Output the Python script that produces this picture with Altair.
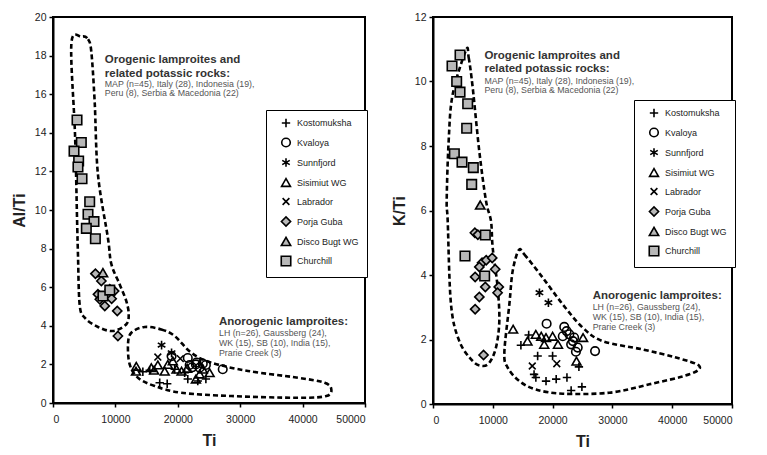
import altair as alt
import pandas as pd

SERIES = ["Kostomuksha", "Kvaloya", "Sunnfjord", "Sisimiut WG", "Labrador",
          "Porja Guba", "Disco Bugt WG", "Churchill"]
SHAPES = ["M-1,0L1,0M0,-1L0,1", "circle",
          "M0,-1L0,1M-0.87,-0.5L0.87,0.5M-0.87,0.5L0.87,-0.5",
          "triangle-up", "M-0.75,-0.75L0.75,0.75M-0.75,0.75L0.75,-0.75",
          "diamond", "triangle-up", "square"]
FILLS = ["transparent"] * 5 + ["#b8b8b8"] * 3
SIZES = [70, 90, 110, 130, 70, 170, 130, 120]

# ---------------- Left panel: Al/Ti vs Ti ----------------
L_kost_ti = [14400, 17100, 18300, 21100, 21600, 23200, 24500, 15500, 19500]
L_kost_v = [1.62, 1.05, 1.0, 1.57, 1.24, 1.14, 1.24, 1.7, 1.75]
L_kval_ti = [19000, 21600, 21900, 22900, 23500, 24000, 24500, 27200, 22300, 23000]
L_kval_v = [2.43, 2.33, 1.97, 2.0, 1.83, 2.04, 1.97, 1.75, 1.85, 2.1]
L_sunn_ti = [17400, 19000]
L_sunn_v = [3.0, 2.6]
L_sisi_ti = [13300, 13350, 15750, 16800, 17900, 18400, 19200, 19800, 20600, 23500, 25100, 22900, 16200, 21500, 24000]
L_sisi_v = [1.65, 1.9, 1.83, 1.97, 1.65, 2.0, 2.18, 1.75, 1.65, 1.5, 1.57, 1.24, 1.7, 1.8, 1.75]
L_labr_ti = [16800, 20400]
L_labr_v = [2.38, 2.3]
L_porj_ti = [6800, 7750, 7200, 7500, 8300, 9100, 9800, 10300, 10400, 9400]
L_porj_v = [6.7, 6.32, 5.63, 5.37, 5.03, 5.89, 5.8, 4.77, 3.47, 5.4]
L_disc_ti = [8000]
L_disc_v = [6.75]
L_chur_ti = [3850, 4540, 3370, 4110, 4000, 4650, 5880, 5610, 6570, 5340, 6790, 8000, 9100]
L_chur_v = [14.66, 13.5, 13.05, 12.54, 12.23, 11.62, 10.43, 9.78, 9.4, 9.05, 8.51, 5.54, 5.85]

L_oro_ti = [4540, 5610, 6140, 6680, 7200, 8800, 9350, 10680, 11750, 12130, 11750, 9620, 7210, 5080, 4270, 4000, 3850, 3530, 2940]
L_oro_v = [18.98, 18.85, 18.2, 15.6, 11.85, 8.55, 7.2, 6.15, 5.28, 4.6, 4.08, 3.73, 3.94, 4.42, 5.1, 7.7, 9.6, 13.9, 18.6]
L_ano_ti = [14690, 17360, 19500, 22170, 25370, 31250, 39260, 43540, 44600, 43800, 39260, 28580, 20560, 16300, 13620, 12290, 12020, 12550]
L_ano_v = [3.94, 3.81, 3.47, 2.6, 2.09, 1.66, 1.31, 1.05, 0.71, 0.36, 0.27, 0.36, 0.53, 0.88, 1.31, 2.0, 3.04, 3.64]

# ---------------- Right panel: K/Ti vs Ti ----------------
R_kost_ti = [14700, 16000, 17500, 20000, 16900, 17200, 18900, 20600, 22400, 23100, 24900, 24400]
R_kost_v = [1.82, 2.14, 1.49, 1.49, 0.92, 0.82, 0.71, 0.77, 0.82, 0.42, 0.53, 1.15]
R_kval_ti = [19000, 21950, 22350, 22800, 21700, 23600, 23100, 24200, 23900, 27100, 23400]
R_kval_v = [2.49, 2.39, 2.26, 2.16, 2.1, 2.06, 1.85, 1.75, 1.62, 1.64, 1.95]
R_sunn_ti = [17800, 19300]
R_sunn_v = [3.45, 3.14]
R_sisi_ti = [13400, 15800, 17200, 18100, 18600, 18900, 20000, 20900, 25100, 24000]
R_sisi_v = [2.32, 1.95, 2.16, 2.1, 1.85, 2.06, 2.1, 1.85, 2.06, 1.33]
R_labr_ti = [16600, 20700]
R_labr_v = [1.18, 1.25]
R_porj_ti = [7000, 7500, 8200, 8900, 9900, 10400, 7750, 7050, 8750, 11000, 10800, 7750, 7050, 8450]
R_porj_v = [5.31, 5.25, 4.38, 4.46, 4.53, 4.18, 4.25, 3.94, 3.63, 3.63, 3.45, 3.32, 2.94, 1.52]
R_disc_ti = [7900]
R_disc_v = [6.17]
R_chur_ti = [4520, 3180, 3960, 4520, 5800, 5630, 3570, 4850, 6740, 6470, 8750, 5350, 8640]
R_chur_v = [10.82, 10.48, 10.0, 9.67, 9.31, 8.55, 7.76, 7.5, 7.33, 6.81, 5.24, 4.59, 3.97]

R_oro_ti = [5520, 5970, 6640, 7740, 8860, 9700, 9980, 10810, 11090, 10530, 9420, 8190, 6640, 4400, 3010, 2460, 2290, 2620, 3290]
R_oro_v = [10.97, 10.74, 9.81, 7.84, 6.3, 5.67, 4.85, 3.61, 2.57, 1.75, 1.28, 1.18, 1.33, 1.95, 3.09, 5.67, 6.3, 8.16, 9.6]
R_ano_ti = [14330, 15270, 18340, 21690, 25030, 28380, 35070, 40640, 44540, 42870, 36180, 29490, 21690, 17220, 14440, 12490, 11930, 12770, 13320]
R_ano_v = [4.77, 4.64, 3.92, 3.09, 2.37, 1.95, 1.69, 1.44, 1.18, 0.92, 0.61, 0.35, 0.32, 0.45, 0.71, 1.13, 1.59, 3.09, 4.12]

# ---------------- Annotation texts ----------------
ORO_BOLD = ["Orogenic lamproites and", "related potassic rocks:"]
ORO_SMALL = ["MAP (n=45), Italy (28), Indonesia (19),", "Peru (8), Serbia & Macedonia (22)"]
ANO_BOLD = ["Anorogenic lamproites:"]
ANO_SMALL = ["LH (n=26), Gaussberg (24),", "WK (15), SB (10), India (15),", "Prarie Creek (3)"]

L_oro_txt_ti = 8300
L_oro_bold_v = [17.77, 17.07]
L_oro_small_v = [16.53, 16.05]
L_ano_txt_ti = 26600
L_ano_bold_v = [4.21]
L_ano_small_v = [3.64, 3.12, 2.6]

R_oro_txt_ti = 8600
R_oro_bold_v = [10.79, 10.38]
R_oro_small_v = [10.02, 9.73]
R_ano_txt_ti = 26700
R_ano_bold_v = [3.35]
R_ano_small_v = [3.01, 2.71, 2.39]

FONT = "Liberation Sans"


def pts_frame(groups):
    rows = []
    for name, tis, vs in groups:
        for t, v in zip(tis, vs):
            rows.append({"Ti": t, "v": v, "series": name})
    return pd.DataFrame(rows)


def outline_frame(outl):
    rows = []
    for name, tis, vs in outl:
        for i, (t, v) in enumerate(zip(tis, vs)):
            rows.append({"Ti": t, "v": v, "name": name, "i": i})
    return pd.DataFrame(rows)


def text_frame(items):
    rows = []
    for t, vs, labels in items:
        for v, lab in zip(vs, labels):
            rows.append({"Ti": t, "v": v, "label": lab})
    return pd.DataFrame(rows)


def panel(pts, outl, bold, small, ymax, ytitle, w, h, lx, ly):
    X = alt.X("Ti:Q", scale=alt.Scale(domain=[0, 50000], nice=False),
              axis=alt.Axis(title="Ti", values=[0, 10000, 20000, 30000, 40000, 50000],
                            format="d", titlePadding=8, labelPadding=7))
    Y = alt.Y("v:Q", scale=alt.Scale(domain=[0, ymax], nice=False),
              axis=alt.Axis(title=ytitle, values=list(range(0, ymax + 1, 2)),
                            titlePadding=7, labelPadding=3))
    lines = alt.Chart(outline_frame(outl)).mark_line(
        interpolate="cardinal-closed", strokeDash=[5, 3], strokeWidth=2.6, color="black"
    ).encode(x=X, y=Y, detail="name:N", order="i:Q")
    points = alt.Chart(pts_frame(pts)).mark_point(
        filled=True, stroke="black", strokeWidth=1.6, opacity=1
    ).encode(
        x=X, y=Y,
        shape=alt.Shape("series:N", scale=alt.Scale(domain=SERIES, range=SHAPES),
                        legend=alt.Legend(title=None, orient="none", legendX=lx, legendY=ly,
                                          strokeColor="black", fillColor="white",
                                          padding=8, rowPadding=4, symbolOffset=6,
                                          labelOffset=5, labelFontSize=9, labelColor="#222",
                                          labelFont=FONT, symbolStrokeColor="black",
                                          symbolStrokeWidth=1.6)),
        fill=alt.Fill("series:N", scale=alt.Scale(domain=SERIES, range=FILLS), legend=alt.Legend(title=None, orient="none", legendX=lx, legendY=ly)),
        size=alt.Size("series:N", scale=alt.Scale(domain=SERIES, range=SIZES), legend=alt.Legend(title=None, orient="none", legendX=lx, legendY=ly)),
    )
    tb = alt.Chart(text_frame(bold)).mark_text(
        align="left", baseline="middle", font=FONT, fontSize=11.5, fontWeight="bold", color="#333"
    ).encode(x=X, y=Y, text="label:N")
    ts = alt.Chart(text_frame(small)).mark_text(
        align="left", baseline="middle", font=FONT, fontSize=8.8, color="#555"
    ).encode(x=X, y=Y, text="label:N")
    return alt.layer(lines, points, tb, ts).properties(width=w, height=h)


left = panel(
    [("Kostomuksha", L_kost_ti, L_kost_v), ("Kvaloya", L_kval_ti, L_kval_v),
     ("Sunnfjord", L_sunn_ti, L_sunn_v), ("Sisimiut WG", L_sisi_ti, L_sisi_v),
     ("Labrador", L_labr_ti, L_labr_v), ("Porja Guba", L_porj_ti, L_porj_v),
     ("Disco Bugt WG", L_disc_ti, L_disc_v), ("Churchill", L_chur_ti, L_chur_v)],
    [("oro", L_oro_ti, L_oro_v), ("ano", L_ano_ti, L_ano_v)],
    [(L_oro_txt_ti, L_oro_bold_v, ORO_BOLD), (L_ano_txt_ti, L_ano_bold_v, ANO_BOLD)],
    [(L_oro_txt_ti, L_oro_small_v, ORO_SMALL), (L_ano_txt_ti, L_ano_small_v, ANO_SMALL)],
    20, "Al/Ti", 312, 386, 213, 93)

right = panel(
    [("Kostomuksha", R_kost_ti, R_kost_v), ("Kvaloya", R_kval_ti, R_kval_v),
     ("Sunnfjord", R_sunn_ti, R_sunn_v), ("Sisimiut WG", R_sisi_ti, R_sisi_v),
     ("Labrador", R_labr_ti, R_labr_v), ("Porja Guba", R_porj_ti, R_porj_v),
     ("Disco Bugt WG", R_disc_ti, R_disc_v), ("Churchill", R_chur_ti, R_chur_v)],
    [("oro", R_oro_ti, R_oro_v), ("ano", R_ano_ti, R_ano_v)],
    [(R_oro_txt_ti, R_oro_bold_v, ORO_BOLD), (R_ano_txt_ti, R_ano_bold_v, ANO_BOLD)],
    [(R_oro_txt_ti, R_oro_small_v, ORO_SMALL), (R_ano_txt_ti, R_ano_small_v, ANO_SMALL)],
    12, "K/Ti", 299, 387, 201, 83)

chart = alt.hconcat(left, right, spacing=21).resolve_scale(
    shape="independent", fill="independent", size="independent"
).resolve_legend(
    shape="independent", fill="independent", size="independent"
).configure_view(
    stroke="black", strokeWidth=2
).configure_axis(
    grid=False, domainColor="black", domainWidth=2, tickColor="black", tickWidth=1.5,
    tickSize=4, labelFont=FONT, labelFontSize=10.5, labelColor="#222",
    titleFont=FONT, titleFontSize=16, titleFontWeight="bold", titleColor="#222"
).properties(
    padding={"left": 2, "top": 3, "right": 5, "bottom": 3}, background="white"
)

chart.save("out.html", embed_options={"renderer": "svg", "actions": False})
